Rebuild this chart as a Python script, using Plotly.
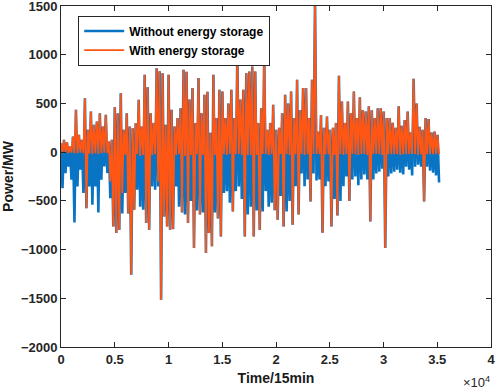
import plotly.graph_objects as go

# Time step between successive columns (in 15-min intervals)
STEP = 278

# Positive envelope per column (both series share the upper part)
upper = [92, 127, 100, 58, 160, 434, 178, 127, 554, 229,
         417, 280, 315, 400, 263, 383, 110, 127, 462, 400,
         605, 229, 400, 263, 246, 297, 537, 263, 793, 667,
         400, 300, 862, 830, 810, 280, 793, 434, 263, 350,
         450, 845, 825, 540, 657, 300, 760, 400, 590, 620,
         200, 793, 350, 640, 622, 350, 500, 640, 350, 1009,
         540, 640, 810, 828, 880, 828, 300, 450, 1015, 230,
         300, 486, 230, 250, 400, 588, 500, 622, 350, 742,
         430, 657, 657, 350, 742, 1560, 210, 380, 250, 366,
         230, 250, 300, 783, 520, 300, 520, 400, 622, 350,
         564, 430, 417, 470, 430, 350, 450, 450, 417, 350,
         350, 300, 250, 470, 270, 330, 417, 200, 752, 500,
         260, 230, 350, 340, 200, 212, 178]

# Negative envelope, without energy storage
lower_without = [-369, -215, -150, -284, -722, -352, -180, -420, -575, -352,
                 -540, -352, -620, -284, -147, -215, -472, -763, -830, -800,
                 -629, -420, -629, -1258, -592, -386, -560, -592, -728, -800,
                 -352, -386, -352, -1516, -660, -763, -797, -790, -352, -560,
                 -620, -640, -728, -500, -985, -600, -640, -620, -1036, -830,
                 -967, -620, -680, -865, -420, -400, -520, -610, -400, -352,
                 -480, -865, -640, -560, -865, -600, -800, -610, -400, -560,
                 -520, -595, -694, -450, -763, -610, -500, -745, -350, -640,
                 -220, -350, -280, -506, -220, -290, -280, -826, -350, -300,
                 -763, -480, -650, -500, -350, -250, -500, -280, -250, -340,
                 -280, -230, -280, -711, -280, -220, -200, -170, -985, -250,
                 -220, -200, -180, -210, -230, -150, -180, -240, -150, -130,
                 -150, -506, -150, -190, -210, -240, -311]

# Negative envelope, with energy storage
lower_with = [-10, -5, -10, -5, -10, -10, -5, -10, -575, -15,
              -20, -10, -20, -10, -5, -10, -300, -763, -830, -800,
              -420, -30, -629, -1258, -592, -20, -40, -30, -728, -800,
              -30, -20, -300, -1516, -660, -763, -797, -790, -30, -20,
              -620, -40, -728, -30, -985, -20, -640, -30, -1036, -830,
              -967, -30, -680, -865, -20, -30, -20, -610, -20, -20,
              -30, -865, -30, -30, -865, -30, -800, -20, -20, -30,
              -20, -595, -694, -20, -763, -20, -30, -745, -20, -640,
              -20, -30, -20, -506, -20, -20, -20, -826, -20, -20,
              -763, -30, -650, -20, -30, -20, -500, -20, -20, -30,
              -20, -20, -30, -711, -20, -20, -20, -30, -985, -20,
              -20, -20, -20, -30, -20, -20, -20, -20, -20, -30,
              -20, -506, -20, -20, -20, -20, -20]

x_ticks = [0, 5000, 10000, 15000, 20000, 25000, 30000, 35000, 40000]
x_tick_text = ["0", "0.5", "1", "1.5", "2", "2.5", "3", "3.5", "4"]
y_ticks = [-2000, -1500, -1000, -500, 0, 500, 1000, 1500]


def zigzag(hi, lo):
    xs, ys = [], []
    for k, (h, l) in enumerate(zip(hi, lo)):
        xs += [k * STEP, k * STEP + STEP / 2]
        ys += [h, l]
    return xs, ys


xb, yb = zigzag(upper, lower_without)
xo, yo = zigzag(upper, lower_with)

BLUE = "#0A74C4"
ORANGE = "#FF5614"
FONT = "Liberation Sans, Arial, sans-serif"

fig = go.Figure()
fig.add_trace(go.Scatter(x=xb, y=yb, mode="lines", name="Without energy storage",
                         line=dict(color=BLUE, width=2.6)))
fig.add_trace(go.Scatter(x=xo, y=yo, mode="lines", name="With energy storage",
                         line=dict(color=ORANGE, width=1.8)))

axis_common = dict(showline=True, linecolor="#262626", linewidth=1, mirror="allticks",
                   ticks="inside", ticklen=5, tickcolor="#262626", showgrid=False,
                   zeroline=False, automargin=False, ticklabeloverflow="allow",
                   tickfont=dict(family=FONT, size=13, color="#262626", weight="bold"))

fig.update_xaxes(range=[0, 40000], tickvals=x_ticks, ticktext=x_tick_text,
                 title=dict(text="Time/15min", standoff=7,
                            font=dict(family=FONT, size=14, color="#1a1a1a", weight="bold")),
                 **axis_common)
fig.update_yaxes(range=[-2000, 1500], tickvals=y_ticks,
                 title=dict(text="Power/MW", standoff=9,
                            font=dict(family=FONT, size=14, color="#1a1a1a", weight="bold")),
                 **axis_common)

fig.add_annotation(text="×10<sup>4</sup>", xref="paper", yref="paper", x=1.003, y=-0.072,
                   xanchor="right", yanchor="top", showarrow=False,
                   font=dict(family=FONT, size=13, color="#262626"))

fig.update_layout(
    width=498, height=390,
    margin=dict(l=61, r=7, t=6, b=43),
    plot_bgcolor="white", paper_bgcolor="white",
    showlegend=True,
    legend=dict(x=0.040, y=0.972, xanchor="left", yanchor="top",
                bgcolor="white", bordercolor="#262626", borderwidth=1,
                font=dict(family=FONT, size=12, color="#000000", weight="bold"),
                tracegroupgap=0, itemwidth=40),
)

fig.write_html("out.html", config={"displayModeBar": False},
               post_script="document.body.style.margin='0';document.body.style.padding='0';")
